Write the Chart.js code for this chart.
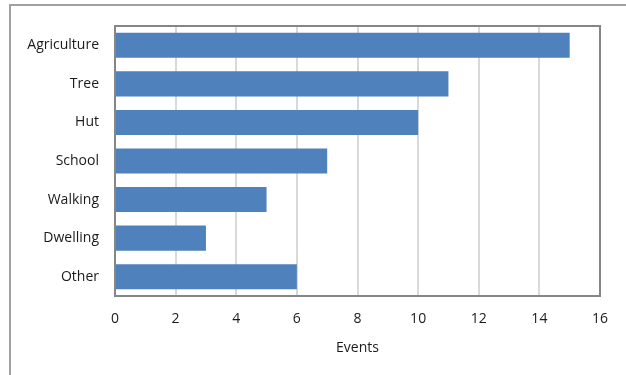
<!DOCTYPE html>
<html>
<head>
<meta charset="utf-8">
<script src="https://cdn.jsdelivr.net/npm/chart.js@4"></script>
<style>
  html, body { margin: 0; padding: 0; background: #fff; }
  #chart { display: block; }
</style>
</head>
<body>
<canvas id="chart" width="626" height="375"></canvas>
<script>
// event categories and counts
const categories = ["Agriculture", "Tree", "Hut", "School", "Walking", "Dwelling", "Other"];
const events = [15, 11, 10, 7, 5, 3, 6];
const xTicks = [0, 2, 4, 6, 8, 10, 12, 14, 16];

// outer frame and the box round the plot area
const frames = {
    id: "frames",
    beforeDraw(chart) {
        const ctx = chart.ctx;
        ctx.save();
        ctx.fillStyle = "#fff";
        ctx.fillRect(0, 0, chart.width, chart.height);
        ctx.strokeStyle = "#a0a0a0";
        ctx.lineWidth = 2;
        ctx.strokeRect(10, 5, chart.width + 20, chart.height + 20);
        ctx.restore();
    },
    afterDatasetsDraw(chart) {
        const a = chart.chartArea;
        const ctx = chart.ctx;
        ctx.save();
        ctx.strokeStyle = "#868686";
        ctx.lineWidth = 2;
        ctx.strokeRect(a.left, a.top, a.right - a.left, a.bottom - a.top);
        ctx.restore();
    }
};

const font = { family: "'Open Sans', 'DejaVu Sans', sans-serif", size: 14 };

new Chart(document.getElementById("chart").getContext("2d"), {
    type: "bar",
    data: {
        labels: categories,
        datasets: [{
            data: events,
            backgroundColor: "#4f81bd",
            borderWidth: 0,
            barPercentage: 0.65,
            categoryPercentage: 1.0
        }]
    },
    options: {
        indexAxis: "y",
        responsive: false,
        animation: false,
        layout: { padding: { top: 26, right: 26, left: 0, bottom: 19 } },
        plugins: {
            legend: { display: false },
            tooltip: { enabled: false }
        },
        scales: {
            x: {
                min: 0,
                max: 16,
                afterBuildTicks(scale) {
                    scale.ticks = xTicks.map(v => ({ value: v }));
                },
                afterFit(scale) { scale.height = 60; },
                grid: { color: "#d9d9d9", lineWidth: 2, drawTicks: false },
                border: { display: false },
                ticks: { color: "#1a1a1a", font: font, padding: 15, maxRotation: 0 },
                title: {
                    display: true,
                    text: "Events",
                    color: "#1a1a1a",
                    font: font,
                    padding: { top: 6, bottom: 0 }
                }
            },
            y: {
                afterFit(scale) { scale.width = 115; },
                grid: { display: false, drawTicks: false },
                border: { display: false },
                ticks: { color: "#1a1a1a", font: font, padding: 16 }
            }
        }
    },
    plugins: [frames]
});
</script>
</body>
</html>
